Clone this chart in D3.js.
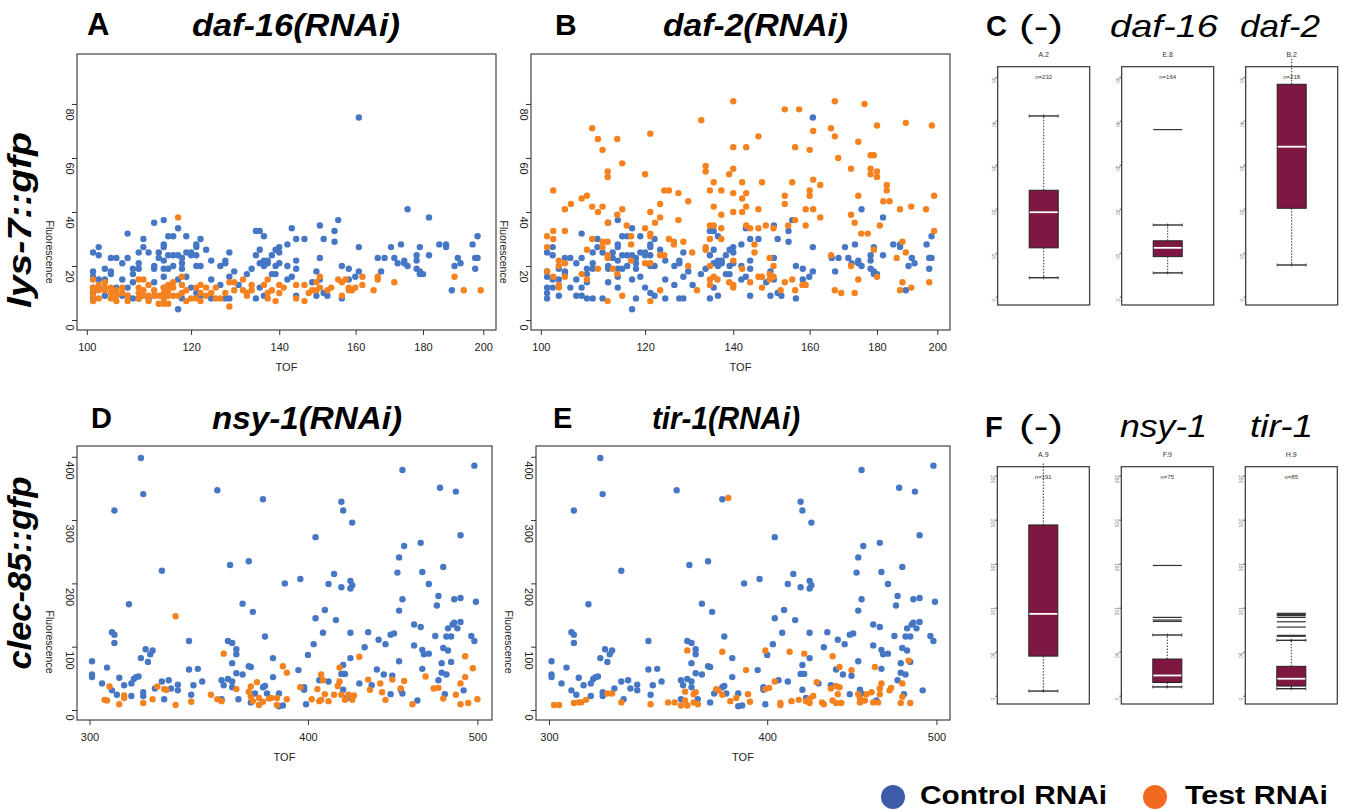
<!DOCTYPE html>
<html>
<head>
<meta charset="utf-8">
<script src="https://cdn.jsdelivr.net/npm/d3@7"></script>
<style>
  body { margin: 0; background: #fff; }
  svg { display: block; font-family: 'Liberation Sans', Arial, Helvetica, sans-serif; }
</style>
</head>
<body>
<div id="container"></div>
<script>
//---------------------------------------------------------
// SETUP
// //------------------------------------------------------
// // MISCELLANEOUS VARIABLES SETUP

const width = 1346
const height = 810
const blue = '#4677c5'
const orange = '#f5821f'
const legendBlue = '#3c5ba8'
const legendOrange = '#f26a22'
const boxFill = '#7e1742'
const dotR = 3.2

//---------------------------------------------------------
// DATA

const lysTofTicks = [100, 120, 140, 160, 180, 200]
const lysFluoTicks = [0, 20, 40, 60, 80]
const clecTofTicks = [300, 400, 500]
const clecFluoTicks = [0, 100, 200, 300, 400]
const lysBoxTicks = [0, 10, 20, 30, 40, 50]
const clecBoxTicks = [0, 50, 100, 150, 200, 250]

// [TOF, Fluorescence]
const lysControl = [
  [101.1,25],[101.1,18],[101.1,16],[101.1,12],[101.1,10],[101.1,8],
  [102.1,27],[102.1,24],[102.1,15],[102.1,12],
  [103.2,19],[103.2,15],[103.2,9],
  [104.3,23],[104.3,18],[104.3,17],
  [105.3,23],[105.3,12],
  [106.4,21],[106.4,15],[106.4,9],
  [107.4,32],[107.4,23],[107.4,12],[107.4,9],
  [108.4,19],[108.4,17],[108.4,14],[108.4,8],
  [109.5,25],[109.5,21],[109.5,19],[109.5,8],
  [110.4,30],[110.4,27],
  [111.4,25],[111.4,8],
  [112.5,36],[112.5,20],[112.5,19],[112.5,14],
  [113.4,25],[113.4,23],
  [114.4,37],[114.4,28],[114.4,27],[114.4,22],[114.4,19],[114.4,16],[114.4,12],
  [115.3,31],[115.3,24],[115.3,19],
  [116.3,31],[116.3,24],[116.3,20],
  [117.3,34],[117.3,24],[117.3,15],[117.3,4],
  [118.1,23],[118.1,21],[118.1,19],[118.1,8],
  [119,31],[119,25],[119,16],
  [120,25],[120,24],[120,12],
  [121.1,28],[121.1,27],[121.1,24],[121.1,20],[121.1,10],
  [122,30],[122,20],[122,9],
  [123.2,26],
  [124.3,22],[124.3,15],[124.3,8],
  [126.3,20],[126.3,13],
  [127.4,22],[127.4,21],[127.4,8],
  [128.3,25],[128.3,16],[128.3,8],
  [129.4,18],
  [130.4,13],
  [132.3,17],
  [133.4,19],
  [134.4,33],[134.4,24],[134.4,8],
  [135.3,33],[135.3,26],[135.3,21],[135.3,12],
  [136.3,31],[136.3,22],[136.3,20],[136.3,9],
  [137.2,22],[137.2,21],
  [138.2,24],[138.2,17],
  [139.1,26],[139.1,20],[139.1,17],
  [140,27],[140,25],[140,21],
  [142,28],[142,20],[142,15],
  [143.1,34],[143.1,16],
  [144.2,30],[144.2,22],[144.2,19],[144.2,9],
  [146.3,30],
  [148.3,14],
  [149.4,18],[149.4,9],
  [150.3,35],[150.3,23],[150.3,15],
  [151.3,30],[151.3,10],
  [152.3,9],
  [154.2,33],[154.2,29],
  [155.2,37],
  [156.2,20],[156.2,8],
  [158.1,19],[158.1,15],
  [159.9,16],
  [160.9,75],[160.9,27],[160.9,18],
  [166.3,23],
  [167.3,18],
  [168.3,23],
  [170.2,27],
  [171.2,23],
  [172.2,21],
  [173.2,28],
  [174.2,22],[174.2,21],
  [175.2,41],[175.2,20],
  [178,24],[178,22],[178,19],
  [179,27],[179,18],[179,17],
  [180,17],
  [181.9,38],[181.9,24],
  [185.2,28],
  [187.4,28],[187.4,27],
  [189.3,11],
  [190.2,20],
  [191.3,23],
  [192.2,21],
  [196.3,28],
  [197.2,23],[197.2,19],
  [198,31],[198,23]
]

const daf16Test = [
  [101.1,15],[101.1,12],[101.1,11],[101.1,9],[101.1,7],
  [102.1,13],[102.1,11],[102.1,8],
  [103.2,14],[103.2,12],[103.2,11],
  [104.3,12],[104.3,10],[104.3,8],
  [105.3,11],[105.3,9],[105.3,7],
  [106.4,12],[106.4,10],
  [107.4,9],[107.4,7],
  [109.5,15],[109.5,12],[109.5,10],[109.5,8],
  [110.4,15],[110.4,11],[110.4,9],
  [111.4,13],[111.4,9],[111.4,7],
  [112.5,11],[112.5,9],
  [113.4,9],[113.4,6],
  [114.4,12],[114.4,10],[114.4,8],[114.4,6],
  [115.3,13],[115.3,11],[115.3,9],[115.3,6],
  [116.3,14],[116.3,12],[116.3,9],
  [117.3,38],[117.3,9],
  [118.1,16],[118.1,13],[118.1,10],
  [119,11],[119,7],
  [120,8],
  [121.1,12],[121.1,8],
  [122,13],[122,10],[122,7],
  [123.2,12],[123.2,9],
  [124.3,10],
  [125.3,12],[125.3,8],
  [126.3,8],
  [127.4,10],
  [128.3,14],[128.3,5],
  [129.4,14],[129.4,11],
  [131.4,15],[131.4,11],
  [132.3,10],[132.3,9],
  [133.4,13],[133.4,11],
  [136.3,13],
  [137.2,15],[137.2,10],[137.2,8],
  [138.2,11],
  [139.1,7],
  [140,13],[140,10],
  [141.1,12],
  [144.2,13],[144.2,8],
  [146.3,13],[146.3,7],
  [147.4,10],
  [148.3,11],
  [149.4,14],[149.4,11],
  [150.3,16],[150.3,12],
  [152.3,11],
  [153.3,12],
  [155.2,15],
  [156.2,14],[156.2,9],
  [157.2,15],
  [158.1,12],[158.1,11],
  [159,11],
  [159.9,12],
  [161.9,16],[161.9,13],
  [165.1,11],
  [166.3,16],[166.3,15],
  [171.2,14],
  [190.2,16],
  [193.3,11],
  [199.1,11]
]

const daf2Test = [
  [101.1,31],[101.1,27],[101.1,18],
  [102.2,48],[102.2,33],[102.2,30],[102.2,16],
  [103.2,22],[103.2,20],[103.2,13],[103.2,12],
  [104.3,41],[104.3,33],[104.3,21],[104.3,16],
  [105.4,43],
  [107.4,45],[107.4,17],
  [108.4,46],[108.4,26],[108.4,15],
  [109.4,71],[109.4,42],[109.4,30],
  [110.5,67],[110.5,40],[110.5,19],
  [111.4,63],[111.4,42],[111.4,29],[111.4,27],
  [112.4,55],[112.4,53],[112.4,36],[112.4,29],[112.4,24],[112.4,23],[112.4,7],
  [113.4,19],
  [114.3,67],[114.3,39],[114.3,17],
  [115.3,58],[115.3,41],[115.3,9],
  [116.2,35],
  [117.1,31],[117.1,28],[117.1,22],
  [120,54],[120,34],[120,21],
  [121.1,69],[121.1,40],[121.1,32],[121.1,31],[121.1,21],[121.1,7],
  [122.1,36],
  [123.2,43],[123.2,38],[123.2,24],[123.2,11],
  [124.1,48],[124.1,24],
  [125.1,48],[125.1,30],
  [126.2,29],[126.2,28],
  [127.2,47],[127.2,37],
  [128.3,29],
  [129.4,44],[129.4,20],
  [130.3,25],
  [131.4,11],
  [132.4,74],
  [133.4,57],[133.4,55],[133.4,27],[133.4,26],
  [134.4,48],[134.4,35],[134.4,30],[134.4,20],[134.4,15],[134.4,13],
  [135.3,51],[135.3,42],[135.3,35],[135.3,16],
  [136.2,15],
  [137.1,48],[137.1,39],[137.1,34],[137.1,30],
  [139,54],[139,14],
  [140,81],[140,64],[140,56],[140,47],[140,40],[140,22],[140,13],[140,12],
  [142.2,51],[142.2,45],[142.2,40],[142.2,19],
  [143.2,64],[143.2,47],[143.2,42],[143.2,35],
  [144.2,34],[144.2,14],
  [145.3,28],[145.3,25],
  [146.3,68],[146.3,41],[146.3,34],[146.3,16],
  [147.2,51],[147.2,16],[147.2,12],
  [148.2,35],
  [149.2,23],[149.2,17],[149.2,15],
  [150.2,34],[150.2,20],[150.2,16],
  [152.1,11],
  [153.2,78],[153.2,46],[153.2,43],[153.2,14],
  [154.1,35],
  [155.2,51],[155.2,15],
  [156,64],[156,37],[156,11],
  [157.1,78],
  [158,13],
  [158.9,41],[158.9,35],[158.9,13],
  [160,63],[160,48],[160,46],
  [161,70],[161,52],[161,41],
  [163,50],[163,38],
  [166.1,71],[166.1,24],
  [167.2,81],[167.2,68],[167.2,11],
  [168.2,60],
  [169.1,10],
  [172,56],[172,39],[172,20],
  [173.1,36],[173.1,10],
  [174.2,66],[174.2,46],[174.2,15],
  [175.1,32],
  [176.1,80],
  [177.1,32],
  [178,61],[178,56],[178,54],
  [179,61],[179,26],
  [180,72],[180,55],[180,53],[180,16],
  [180.9,35],
  [182,44],
  [183.1,50],[183.1,48],
  [184,44],
  [186.3,23],
  [187.4,41],[187.4,11],
  [188.2,29],[188.2,14],
  [189.3,73],[189.3,25],
  [191.1,42],[191.1,12],
  [196.1,41],
  [197.2,14],
  [198.1,72],
  [198.9,46],[198.9,33]
]

const clecControl = [
  [301,77],[301,56],[301,52],[305,42],[307,67],[309,31],[309,123],[310,119],[310,106],[310,315],
  [311,24],[312,51],[314,39],[316,167],[317,22],[317,42],[318,49],[319,52],[320,53],[321,398],
  [321,82],[322,341],[322,28],[322,22],[323,96],[324,76],[325,88],[326,94],[327,34],[330,220],
  [330,45],[331,17],[333,47],[334,34],[337,40],[337,31],[342,64],[342,109],[343,24],[344,39],
  [346,65],[348,45],[355,347],[357,47],[358,39],[357,17],[360,109],[361,229],[362,106],[362,74],
  [362,36],[360,49],[362,45],[364,96],[364,88],[364,58],[365,17],[367,168],[367,56],[370,235],
  [370,69],[371,68],[371,12],[372,155],[373,26],[377,36],[378,116],[378,38],[379,26],[377,333],
  [382,82],[382,52],[385,26],[385,6],[387,7],[388,200],[395,63],[396,207],[398,36],[398,32],
  [400,87],[399,9],[403,104],[404,145],[404,273],[406,47],[408,122],[409,158],[411,45],[411,199],
  [414,215],[415,142],[418,329],[418,194],[418,57],[419,315],[419,71],[419,57],[419,32],[420,57],
  [421,19],[423,122],[423,82],[423,192],[423,204],[424,197],[424,296],[428,42],[431,99],[433,123],
  [435,39],[439,111],[438,64],[442,56],[443,104],[446,25],[446,119],[448,121],[447,54],[450,217],
  [451,241],[451,157],[451,77],[452,32],[453,379],[453,175],[453,26],[454,259],[460,135],[460,102],
  [462,15],[464,264],[464,131],[465,218],[465,95],[465,65],[466,88],[469,199],[469,89],[473,117],
  [474,165],[475,180],[475,47],[476,351],[477,74],[477,59],[478,226],[478,98],[479,25],[480,116],
  [480,56],[481,94],[481,129],[483,116],[483,76],[484,135],[485,175],[485,138],[486,345],[487,129],
  [489,276],[489,139],[489,177],[491,31],[496,117],[498,109],[498,386],[499,171]
]

const nsy1Test = [
  [306,16],[307,15],[308,37],[312,9],[314,23],[314,19],[322,11],[326,17],[328,37],[331,33],
  [332,32],[336,148],[336,8],[343,13],[352,24],[355,17],[357,14],[358,89],[364,33],[370,29],
  [371,37],[371,21],[372,14],[374,44],[375,19],[375,8],[377,13],[380,18],[381,19],[384,19],
  [384,8],[387,69],[389,59],[389,17],[396,36],[402,17],[405,33],[406,14],[407,56],[407,16],
  [408,47],[409,25],[411,14],[414,24],[416,38],[417,67],[417,45],[418,24],[420,16],[422,24],
  [424,16],[425,23],[428,84],[433,48],[434,32],[440,42],[441,28],[443,16],[447,48],[452,34],
  [454,46],[459,9],[467,53],[472,34],[475,35],[478,18],[486,24],[489,9],[489,42],[492,85],
  [492,52],[494,11],[497,66],[500,17]
]

const tir1Test = [
  [302,8],[304,8],[310,11],[312,12],[313,12],[315,16],[324,26],[326,26],[330,12],[343,9],
  [351,12],[354,12],[357,7],[359,29],[359,15],[360,94],[360,7],[363,12],[363,25],[364,28],
  [365,9],[374,33],[375,31],[377,24],[377,92],[380,335],[381,14],[384,19],[389,63],[390,25],
  [391,13],[399,94],[399,33],[401,35],[404,45],[407,8],[407,11],[412,92],[413,14],[417,16],
  [420,89],[421,14],[423,18],[423,11],[425,22],[427,44],[430,12],[431,9],[435,34],[436,85],
  [436,15],[438,38],[438,11],[440,36],[440,68],[439,25],[441,11],[447,63],[451,25],[452,19],
  [452,12],[455,15],[456,25],[459,28],[460,12],[461,68],[463,12],[464,34],[464,25],[465,42],
  [470,31],[471,35],[477,11],[478,21],[478,42],[482,78],[483,11]
]

// box plot summaries: lower whisker, Q1, median, Q3, upper whisker, outliers
const lysBoxes = [
  {name: 'A.2', n: 'n=232', lo: 4.3, q1: 11.1, med: 19.2, q3: 24.2, hi: 41.1, out: []},
  {name: 'E.8', n: 'n=164', lo: 5.4, q1: 9.1, med: 11.1, q3: 12.7, hi: 16.3, out: [38]},
  {name: 'B.2', n: 'n=218', lo: 7.2, q1: 20.1, med: 34.1, q3: 48.3, hi: 54.2, out: []}
]
const clecBoxes = [
  {name: 'A.9', n: 'n=191', lo: 5.3, q1: 45, med: 93, q3: 194, hi: 264, out: []},
  {name: 'F.9', n: 'n=75', lo: 10, q1: 15, med: 23, q3: 41.7, hi: 69, out: [148, 89, 86, 84.5]},
  {name: 'H.9', n: 'n=85', lo: 8, q1: 11, med: 19.3, q3: 33.4, hi: 63, out: [93.6, 92.4, 91, 89, 84, 78, 68.6, 67.5]}
]

const scatterTitles = ['daf-16(RNAi)', 'daf-2(RNAi)', 'nsy-1(RNAi)', 'tir-1(RNAi)']
const panelLetters = ['A', 'B', 'C', 'D', 'E', 'F']
const boxHeadersTop = ['(-)', 'daf-16', 'daf-2']
const boxHeadersBottom = ['(-)', 'nsy-1', 'tir-1']
const rowLabels = ['lys-7::gfp', 'clec-85::gfp']
const legendLabels = ['Control RNAi', 'Test RNAi']

//---------------------------------------------------------
// SVG SETUP

const svg = d3.select('#container').append('svg')
  .attr('width', width)
  .attr('height', height)
  .attr('viewBox', `0 0 ${width} ${height}`)

//---------------------------------------------------------
// DRAWING: SCATTER PANELS

function drawScatter(p) {
  const x = d3.scaleLog().domain(p.xDomain).range([p.left, p.right])
  const y = d3.scaleLinear().domain(p.yDomain).range([p.bottom, p.top])
  const g = svg.append('g')

  g.append('g').selectAll('circle').data(p.control).join('circle')
    .attr('cx', d => x(d[0]))
    .attr('cy', d => y(d[1]))
    .attr('r', dotR)
    .attr('fill', blue)

  g.append('g').selectAll('circle').data(p.test).join('circle')
    .attr('cx', d => x(d[0]))
    .attr('cy', d => y(d[1]))
    .attr('r', dotR)
    .attr('fill', orange)

  g.append('rect')
    .attr('x', p.left).attr('y', p.top)
    .attr('width', p.right - p.left).attr('height', p.bottom - p.top)
    .attr('fill', 'none').attr('stroke', '#444').attr('stroke-width', 1.2)

  const xAxis = g.append('g')
    .attr('transform', `translate(0,${p.bottom})`)
    .call(d3.axisBottom(x).tickValues(p.xTicks).tickFormat(d3.format('d')).tickSize(5).tickPadding(8))
  xAxis.select('.domain').remove()
  xAxis.selectAll('line').attr('stroke', '#333')
  xAxis.selectAll('text').attr('font-size', 11).attr('fill', '#222')
    .style('font-family', 'Liberation Sans, Arial, sans-serif')

  const yAxis = g.append('g')
    .attr('transform', `translate(${p.left},0)`)
    .call(d3.axisLeft(y).tickValues(p.yTicks).tickSize(5))
  yAxis.select('.domain').remove()
  yAxis.selectAll('line').attr('stroke', '#333')
  yAxis.selectAll('text')
    .attr('x', null).attr('dy', null)
    .attr('text-anchor', 'start')
    .attr('dominant-baseline', 'central')
    .attr('transform', 'translate(-7,4) rotate(90)')
    .attr('font-size', 11).attr('fill', '#222')
    .style('font-family', 'Liberation Sans, Arial, sans-serif')

  g.append('text')
    .attr('x', (p.left + p.right) / 2).attr('y', p.bottom + 37)
    .attr('text-anchor', 'middle').attr('dominant-baseline', 'central')
    .attr('font-size', 11).attr('fill', '#222')
    .text('TOF')

  g.append('text')
    .attr('transform', `translate(${p.left - 27},${p.fluoY}) rotate(90)`)
    .attr('text-anchor', 'middle').attr('dominant-baseline', 'central')
    .attr('font-size', 10.5).attr('fill', '#222')
    .text('Fluorescence')
}

drawScatter({left: 77, right: 496, top: 54, bottom: 330, fluoY: 252,
  xDomain: [98.3, 204.5], yDomain: [-3.7, 98.5], xTicks: lysTofTicks, yTicks: lysFluoTicks,
  control: lysControl, test: daf16Test})
drawScatter({left: 531, right: 950, top: 54, bottom: 330, fluoY: 252,
  xDomain: [98.3, 204.5], yDomain: [-3.7, 98.5], xTicks: lysTofTicks, yTicks: lysFluoTicks,
  control: lysControl, test: daf2Test})
drawScatter({left: 77, right: 492, top: 446, bottom: 720, fluoY: 642,
  xDomain: [295.1, 509.7], yDomain: [-15.8, 417], xTicks: clecTofTicks, yTicks: clecFluoTicks,
  control: clecControl, test: nsy1Test})
drawScatter({left: 536, right: 950, top: 446, bottom: 720, fluoY: 642,
  xDomain: [294.9, 509], yDomain: [-15.8, 417], xTicks: clecTofTicks, yTicks: clecFluoTicks,
  control: clecControl, test: tir1Test})

//---------------------------------------------------------
// DRAWING: BOX PLOT PANELS

function drawBoxes(p) {
  const x = d3.scaleBand().domain(p.stats.map(d => d.name))
    .range([p.left, p.right]).paddingInner(0.258).paddingOuter(0)
  const y = d3.scaleLinear().domain(p.yDomain).range([p.bottom, p.top])
  const bw = 29

  p.stats.forEach(s => {
    const g = svg.append('g')
    const x0 = x(s.name)
    const cx = x0 + x.bandwidth() / 2

    g.append('text')
      .attr('x', cx).attr('y', p.top - 12)
      .attr('text-anchor', 'middle').attr('dominant-baseline', 'central')
      .attr('font-size', 7).attr('fill', '#333')
      .text(s.name)

    // whiskers (dotted), running past the frame where the value is off scale
    g.append('line')
      .attr('x1', cx).attr('x2', cx).attr('y1', y(s.q3)).attr('y2', y(s.hi))
      .attr('stroke', '#333').attr('stroke-dasharray', '1.5,1.5')
    g.append('line')
      .attr('x1', cx).attr('x2', cx).attr('y1', y(s.q1)).attr('y2', y(s.lo))
      .attr('stroke', '#333').attr('stroke-dasharray', '1.5,1.5')

    // caps, only inside the frame
    ;[s.lo, s.hi].filter(v => y(v) > p.top + 2).forEach(v => {
      g.append('line')
        .attr('x1', cx - bw / 2).attr('x2', cx + bw / 2).attr('y1', y(v)).attr('y2', y(v))
        .attr('stroke', '#222').attr('stroke-width', 1.3)
      ;[cx - bw / 2, cx, cx + bw / 2].forEach(tx => {
        g.append('line')
          .attr('x1', tx).attr('x2', tx).attr('y1', y(v) - 1.5).attr('y2', y(v) + 1.5)
          .attr('stroke', '#222').attr('stroke-width', 0.8)
      })
    })

    g.append('rect')
      .attr('x', cx - bw / 2).attr('y', y(s.q3))
      .attr('width', bw).attr('height', y(s.q1) - y(s.q3))
      .attr('fill', boxFill).attr('stroke', '#222').attr('stroke-width', 1)

    g.append('line')
      .attr('x1', cx - bw / 2 + 0.5).attr('x2', cx + bw / 2 - 0.5)
      .attr('y1', y(s.med)).attr('y2', y(s.med))
      .attr('stroke', '#fff').attr('stroke-width', 1.8)

    g.append('g').selectAll('line').data(s.out).join('line')
      .attr('x1', cx - bw / 2).attr('x2', cx + bw / 2)
      .attr('y1', d => y(d)).attr('y2', d => y(d))
      .attr('stroke', '#333').attr('stroke-width', 1.2)

    g.append('rect')
      .attr('x', x0).attr('y', p.top)
      .attr('width', x.bandwidth()).attr('height', p.bottom - p.top)
      .attr('fill', 'none').attr('stroke', '#333').attr('stroke-width', 1.2)

    g.append('text')
      .attr('x', cx).attr('y', p.top + 10)
      .attr('text-anchor', 'middle').attr('dominant-baseline', 'central')
      .attr('font-size', 6).attr('fill', '#333')
      .text(s.n)

    const yAxis = g.append('g')
      .attr('transform', `translate(${x0},0)`)
      .call(d3.axisLeft(y).tickValues(p.ticks).tickSize(2))
    yAxis.select('.domain').remove()
    yAxis.selectAll('line').attr('stroke', '#555')
    yAxis.selectAll('text')
      .attr('x', null).attr('dy', null)
      .attr('text-anchor', 'middle')
      .attr('dominant-baseline', 'central')
      .attr('transform', 'translate(-4,3) rotate(90)')
      .attr('font-size', 5).attr('fill', '#777')
      .style('font-family', 'Liberation Sans, Arial, sans-serif')
  })
}

drawBoxes({left: 997.7, right: 1337.7, top: 66.7, bottom: 305, yDomain: [-1.9, 52.3],
  ticks: lysBoxTicks, stats: lysBoxes})
drawBoxes({left: 997.3, right: 1337.3, top: 466.7, bottom: 704, yDomain: [-9.4, 260.2],
  ticks: clecBoxTicks, stats: clecBoxes})

//---------------------------------------------------------
// DRAWING: HEADINGS

const headings = svg.append('g').attr('fill', '#000')

function heading(txt, x, y, size, weight, style, len) {
  const t = headings.append('text')
    .attr('x', x).attr('y', y)
    .attr('font-size', size).attr('font-weight', weight).attr('font-style', style)
    .text(txt)
  if (len) t.attr('textLength', len).attr('lengthAdjust', 'spacingAndGlyphs')
}

heading(panelLetters[0], 87, 35, 31, 'bold', 'normal')
heading(scatterTitles[0], 192, 36, 31, 'bold', 'italic', 208)
heading(panelLetters[1], 555, 35, 30, 'bold', 'normal')
heading(scatterTitles[1], 663, 36, 31, 'bold', 'italic', 185)
heading(panelLetters[2], 986, 36, 29, 'bold', 'normal')
heading(boxHeadersTop[0], 1019, 37, 32, 'normal', 'normal', 44)
heading(boxHeadersTop[1], 1110, 37, 32, 'normal', 'italic', 108)
heading(boxHeadersTop[2], 1240, 37, 32, 'normal', 'italic', 80)

heading(panelLetters[3], 91, 428, 29, 'bold', 'normal')
heading(scatterTitles[2], 212, 429, 31, 'bold', 'italic', 190)
heading(panelLetters[4], 553, 428, 29, 'bold', 'normal')
heading(scatterTitles[3], 652, 429, 31, 'bold', 'italic', 148)
heading(panelLetters[5], 985, 437, 29, 'bold', 'normal')
heading(boxHeadersBottom[0], 1019, 437, 32, 'normal', 'normal', 44)
heading(boxHeadersBottom[1], 1120, 437, 32, 'normal', 'italic', 87)
heading(boxHeadersBottom[2], 1250, 437, 32, 'normal', 'italic', 63)

// row labels
svg.append('text')
  .attr('transform', 'translate(31,220) rotate(-90)')
  .attr('text-anchor', 'middle')
  .attr('font-size', 33).attr('font-weight', 'bold').attr('font-style', 'italic')
  .attr('textLength', 176).attr('lengthAdjust', 'spacingAndGlyphs')
  .text(rowLabels[0])
svg.append('text')
  .attr('transform', 'translate(31,573) rotate(-90)')
  .attr('text-anchor', 'middle')
  .attr('font-size', 33).attr('font-weight', 'bold').attr('font-style', 'italic')
  .attr('textLength', 193).attr('lengthAdjust', 'spacingAndGlyphs')
  .text(rowLabels[1])

//---------------------------------------------------------
// DRAWING: LEGEND

const legend = svg.append('g')
const legendItems = [
  {label: legendLabels[0], color: legendBlue, cx: 893, tx: 920, len: 187},
  {label: legendLabels[1], color: legendOrange, cx: 1155, tx: 1185, len: 143}
]
legendItems.forEach(d => {
  legend.append('circle').attr('cx', d.cx).attr('cy', 797).attr('r', 12).attr('fill', d.color)
  legend.append('text')
    .attr('x', d.tx).attr('y', 804)
    .attr('font-size', 26).attr('font-weight', 'bold')
    .attr('textLength', d.len).attr('lengthAdjust', 'spacingAndGlyphs')
    .text(d.label)
})
</script>
</body>
</html>
